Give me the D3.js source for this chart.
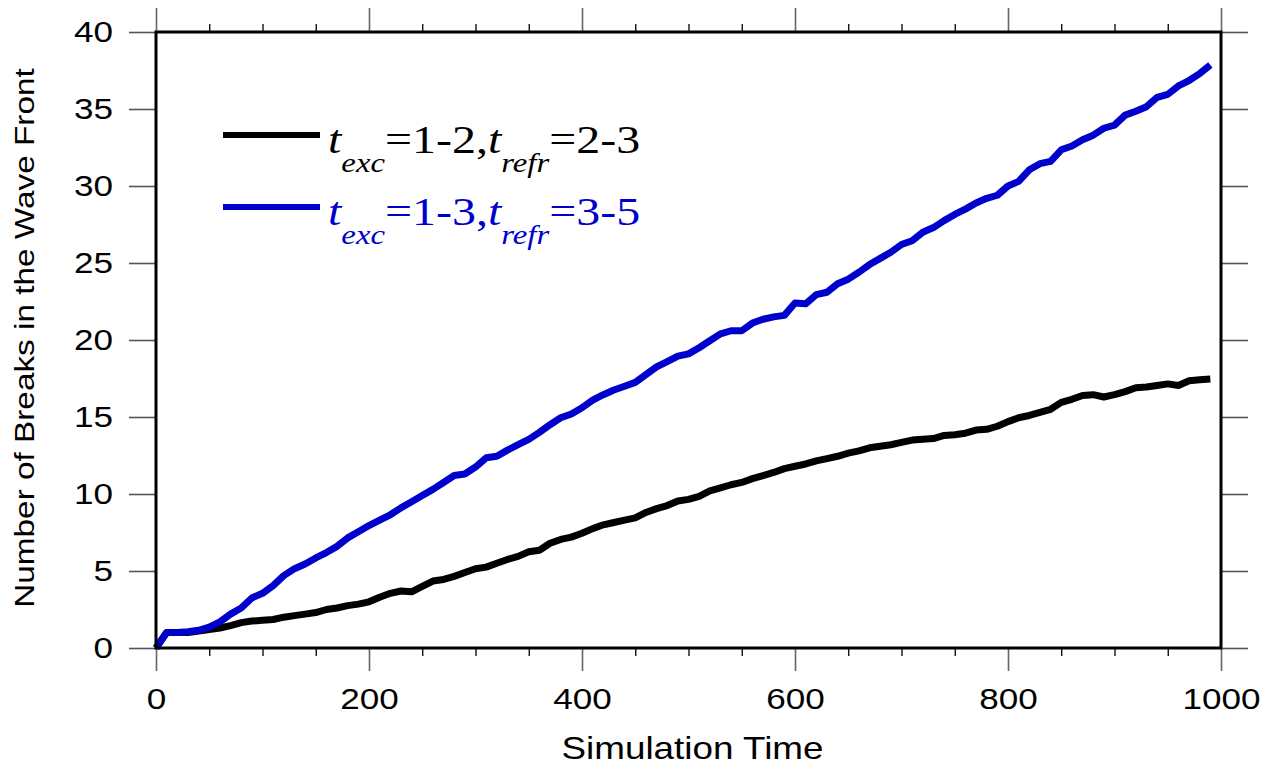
<!DOCTYPE html>
<html>
<head>
<meta charset="utf-8">
<script src="https://cdn.jsdelivr.net/npm/d3@7"></script>
<style>
  body { margin: 0; background: #fff; }
  svg { display: block; }
</style>
</head>
<body>
<div id="wrapper"></div>
<script>
// sampling times
const times = [0, 10, 20, 30, 40, 50, 60, 70, 80, 90,
  100, 110, 120, 130, 140, 150, 160, 170, 180, 190,
  200, 210, 220, 230, 240, 250, 260, 270, 280, 290,
  300, 310, 320, 330, 340, 350, 360, 370, 380, 390,
  400, 410, 420, 430, 440, 450, 460, 470, 480, 490,
  500, 510, 520, 530, 540, 550, 560, 570, 580, 590,
  600, 610, 620, 630, 640, 650, 660, 670, 680, 690,
  700, 710, 720, 730, 740, 750, 760, 770, 780, 790,
  800, 810, 820, 830, 840, 850, 860, 870, 880, 890,
  900, 910, 920, 930, 940, 950, 960, 970, 980, 990]

// t_exc=1-2, t_refr=2-3
const breaksA = [0, 1.0, 1.0, 1.0, 1.1, 1.2, 1.3, 1.45, 1.65, 1.75,
  1.8, 1.85, 2.0, 2.1, 2.2, 2.3, 2.5, 2.6, 2.75, 2.85,
  3.0, 3.3, 3.55, 3.7, 3.65, 4.0, 4.35, 4.45, 4.65, 4.9,
  5.15, 5.25, 5.5, 5.75, 5.95, 6.25, 6.35, 6.8, 7.05, 7.2,
  7.45, 7.75, 8.0, 8.15, 8.3, 8.45, 8.8, 9.05, 9.25, 9.55,
  9.65, 9.85, 10.2, 10.4, 10.6, 10.75, 11.0, 11.2, 11.4, 11.65,
  11.8, 11.95, 12.15, 12.3, 12.45, 12.65, 12.8, 13.0, 13.1, 13.2,
  13.35, 13.5, 13.55, 13.6, 13.8, 13.85, 13.95, 14.15, 14.2, 14.4,
  14.7, 14.95, 15.1, 15.3, 15.5, 15.95, 16.15, 16.4, 16.45, 16.3,
  16.45, 16.65, 16.9, 16.95, 17.05, 17.15, 17.05, 17.35, 17.42, 17.47]

// t_exc=1-3, t_refr=3-5
const breaksB = [0, 1.0, 1.0, 1.05, 1.15, 1.35, 1.7, 2.2, 2.6, 3.25,
  3.55, 4.05, 4.7, 5.15, 5.45, 5.85, 6.2, 6.6, 7.15, 7.55,
  7.95, 8.3, 8.65, 9.1, 9.5, 9.9, 10.3, 10.75, 11.2, 11.3,
  11.75, 12.35, 12.45, 12.85, 13.2, 13.55, 14.0, 14.5, 14.95, 15.2,
  15.6, 16.1, 16.45, 16.75, 17.0, 17.25, 17.75, 18.25, 18.6, 18.95,
  19.1, 19.5, 19.95, 20.4, 20.6, 20.6, 21.1, 21.35, 21.5, 21.6,
  22.4, 22.35, 22.95, 23.1, 23.65, 23.95, 24.4, 24.9, 25.3, 25.7,
  26.2, 26.45, 27.0, 27.3, 27.75, 28.15, 28.5, 28.9, 29.2, 29.4,
  30.0, 30.3, 31.05, 31.45, 31.6, 32.35, 32.6, 33.0, 33.3, 33.75,
  33.95, 34.6, 34.85, 35.15, 35.75, 35.95, 36.5, 36.85, 37.3, 37.85]

const xTicks = [0, 200, 400, 600, 800, 1000]
const xMinorTicks = [50, 100, 150, 250, 300, 350, 450, 500, 550, 650, 700, 750, 850, 900, 950]
const yTicks = [0, 5, 10, 15, 20, 25, 30, 35, 40]

const series = [
  { name: "A", values: breaksA, color: "#000000", exc: "1-2", refr: "2-3" },
  { name: "B", values: breaksB, color: "#0000cc", exc: "1-3", refr: "3-5" },
]

const stretch = "scale(1.17,1)"

let dimensions = {
  width: 1276,
  height: 769,
  margin: { top: 32, right: 55, bottom: 121, left: 156 },
}
dimensions.boundedWidth = dimensions.width - dimensions.margin.left - dimensions.margin.right
dimensions.boundedHeight = dimensions.height - dimensions.margin.top - dimensions.margin.bottom

const wrapper = d3.select("#wrapper")
  .append("svg")
  .attr("width", dimensions.width)
  .attr("height", dimensions.height)

const bounds = wrapper.append("g")
  .attr("transform", `translate(${dimensions.margin.left},${dimensions.margin.top})`)

const xScaler = d3.scaleLinear()
  .domain([0, 1000])
  .range([0, dimensions.boundedWidth])

const yScaler = d3.scaleLinear()
  .domain([0, 40])
  .range([dimensions.boundedHeight, 0])

const tickFont = "'Liberation Sans', Arial, sans-serif"

function styleTicks(g, color, width) {
  g.select(".domain").remove()
  g.selectAll("line").attr("stroke", color).attr("stroke-width", width)
}

// minor x ticks, top and bottom
bounds.append("g")
  .attr("transform", `translate(0,${dimensions.boundedHeight})`)
  .call(d3.axisBottom(xScaler).tickValues(xMinorTicks).tickSize(8).tickFormat(""))
  .call(g => styleTicks(g, "#000", 1.3))
bounds.append("g")
  .call(d3.axisTop(xScaler).tickValues(xMinorTicks).tickSize(8).tickFormat(""))
  .call(g => styleTicks(g, "#000", 1.3))

// major x ticks
const xAxis = bounds.append("g")
  .attr("transform", `translate(0,${dimensions.boundedHeight})`)
  .call(d3.axisBottom(xScaler).tickValues(xTicks).tickSize(23).tickFormat(d3.format("d")))
  .call(g => styleTicks(g, "#666", 1.6))
xAxis.selectAll("text")
  .attr("y", 40)
  .attr("transform", stretch)
  .attr("font-family", tickFont)
  .attr("font-size", 30)
  .attr("fill", "#000")

bounds.append("g")
  .call(d3.axisTop(xScaler).tickValues(xTicks).tickSize(24).tickFormat(""))
  .call(g => styleTicks(g, "#666", 1.6))

// y ticks, left and right
const yAxis = bounds.append("g")
  .call(d3.axisLeft(yScaler).tickValues(yTicks).tickSize(27))
  .call(g => styleTicks(g, "#555", 1.6))
yAxis.selectAll("text")
  .attr("x", 0)
  .attr("transform", "translate(-43,0) " + stretch)
  .attr("font-family", tickFont)
  .attr("font-size", 30)
  .attr("fill", "#000")

bounds.append("g")
  .attr("transform", `translate(${dimensions.boundedWidth},0)`)
  .call(d3.axisRight(yScaler).tickValues(yTicks).tickSize(27).tickFormat(""))
  .call(g => styleTicks(g, "#555", 1.6))

// axis titles
wrapper.append("text")
  .attr("transform", `translate(${dimensions.margin.left + dimensions.boundedWidth / 2 + 4},759) ${stretch}`)
  .attr("text-anchor", "middle")
  .attr("font-family", tickFont)
  .attr("font-size", 31.5)
  .text("Simulation Time")

wrapper.append("text")
  .attr("transform", `translate(34,${dimensions.margin.top + dimensions.boundedHeight / 2 - 2}) rotate(-90) ${stretch}`)
  .attr("text-anchor", "middle")
  .attr("font-family", tickFont)
  .attr("font-size", 28.5)
  .text("Number of Breaks in the Wave Front")

// lines
const lineGen = d3.line()
  .x((d, i) => xScaler(times[i]))
  .y(d => yScaler(d))

bounds.append("g")
  .selectAll("path")
  .data(series)
  .enter()
  .append("path")
  .attr("d", d => lineGen(d.values))
  .attr("fill", "none")
  .attr("stroke", d => d.color)
  .attr("stroke-width", 7)
  .attr("stroke-linejoin", "round")

// frame
bounds.append("rect")
  .attr("width", dimensions.boundedWidth)
  .attr("height", dimensions.boundedHeight)
  .attr("fill", "none")
  .attr("stroke", "#000")
  .attr("stroke-width", 3)

// legend
const legend = wrapper.append("g")
series.forEach((s, i) => {
  const ly = 135 + i * 72
  legend.append("line")
    .attr("x1", 223).attr("x2", 320)
    .attr("y1", ly).attr("y2", ly)
    .attr("stroke", s.color)
    .attr("stroke-width", 6)

  const t = legend.append("text")
    .attr("transform", `translate(328,${ly + 18}) ${stretch}`)
    .attr("font-family", "'Liberation Serif', 'Times New Roman', serif")
    .attr("font-size", 41)
    .attr("fill", s.color)
  t.append("tspan").attr("font-style", "italic").text("t")
  t.append("tspan").attr("font-style", "italic").attr("font-size", 28).attr("dy", 19).text("exc")
  t.append("tspan").attr("dy", -19).text("=" + s.exc + ",")
  t.append("tspan").attr("font-style", "italic").text("t")
  t.append("tspan").attr("font-style", "italic").attr("font-size", 28).attr("dy", 19).text("refr")
  t.append("tspan").attr("dy", -19).text("=" + s.refr)
})
</script>
</body>
</html>
